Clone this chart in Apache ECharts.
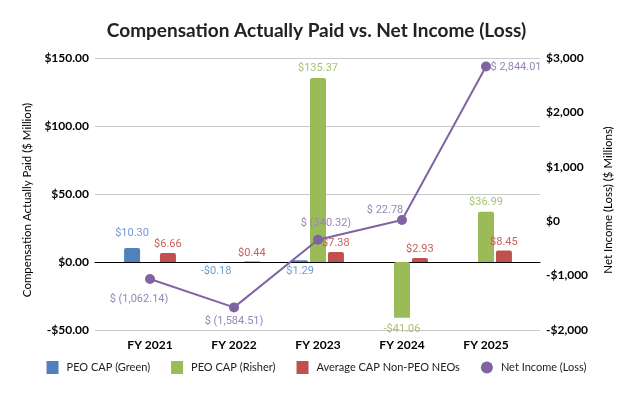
<!DOCTYPE html>
<html><head><meta charset="utf-8">
<script src="https://cdn.jsdelivr.net/npm/echarts@6/dist/echarts.min.js"></script>
<style>html,body{margin:0;padding:0;background:#fff}#c{width:633px;height:394px}</style>
</head><body><div id="c"></div>
<script>
const categories = ['FY 2021','FY 2022','FY 2023','FY 2024','FY 2025'];
const peoGreen = [10.30, -0.18, 1.29, null, null];
const peoRisher = [null, null, 135.37, -41.06, 36.99];
const avgNeo = [6.66, 0.44, 7.38, 2.93, 8.45];
const netIncome = [-1062.14, -1584.51, -340.32, 22.78, 2844.01];
const leftTicks = {min: -50, max: 150, interval: 50};
const rightTicks = {min: -2000, max: 3000, interval: 1000};

const C = {blue:'#4F81BD', green:'#9BBB59', red:'#C0504D', purple:'#8064A2'};
const L = {blue:'#6f9bd1', green:'#a9c46f', red:'#c9605c', purple:'#9886b5'};
const axisFont = {fontFamily:'Lato', fontWeight:'bold', fontSize:12, color:'#000'};
const lblFont = {fontFamily:'Roboto', fontSize:11};

function fmtMoney(v){ return (v<0?'-$':'$') + Math.abs(v).toFixed(2); }
function fmtNI(v){
  const s = Math.abs(v).toLocaleString('en-US',{minimumFractionDigits:2,maximumFractionDigits:2});
  return v<0 ? '$ (' + s + ')' : '$ ' + s;
}
function fmtAxis(v,dec){
  const s = Math.abs(v).toLocaleString('en-US',{minimumFractionDigits:dec,maximumFractionDigits:dec});
  return (v<0?'-$':'$') + s;
}

const blueData = peoGreen.map((v,i)=>{
  if(v==null) return null;
  const pos = (v<0 || i===2) ? 'bottom' : 'top';
  return {value:v, label:{position:pos, distance: pos==='top'?9:4}};
});
const greenData = peoRisher.map(v=> v==null?null:{value:v, label:{position: v<0?'bottom':'top', distance: v<0?6:4}});
const redData = avgNeo.map(v=>({value:v, label:{position:'top', distance:3}}));
const niOffsets = [[-11,20],[0,14],[8,-16],[-17,-10],[30,1]];
const niData = netIncome.map((v,i)=>({value:v, label:{position:'inside', offset:niOffsets[i]}}));

const grids = [
  {left:95, right:93, top:58, bottom:64},
  {left:108, right:105, top:58, bottom:64}
];
const nameStyle = {fontFamily:'Lato', fontSize:11.5, color:'#000', padding:[0,12,0,0]};
const option = {
  animation:false,
  title:{text:'Compensation Actually Paid vs. Net Income (Loss)', left:'center', top:16,
    textStyle:{fontFamily:'Lato', fontWeight:'bold', fontSize:19, color:'#222'}},
  grid: grids,
  legend:{bottom:15, left:'center', itemWidth:12, itemHeight:13, itemGap:21,
    textStyle:{fontFamily:'Lato', fontSize:11, color:'#222', padding:[0,0,0,3]},
    data:[{name:'PEO CAP (Green)', icon:'rect'},{name:'PEO CAP (Risher)', icon:'rect'},
          {name:'Average CAP Non-PEO NEOs', icon:'rect'},{name:'Net Income (Loss)', icon:'circle'}]},
  xAxis:[
    {type:'category', gridIndex:0, data:categories, axisLabel:{show:false}, axisTick:{show:false},
     axisLine:{show:true, onZero:true, lineStyle:{color:'#000', width:1}}, splitLine:{show:false}},
    {type:'category', gridIndex:1, data:categories, axisTick:{show:false},
     axisLine:{show:false, onZero:false}, axisLabel:{...axisFont, margin:9}, splitLine:{show:false}}
  ],
  yAxis:[
    {type:'value', gridIndex:0, ...leftTicks, position:'left',
     name:'Compensation Actually Paid ($ Million)', nameLocation:'middle', nameGap:62,
     nameTextStyle:nameStyle,
     axisLabel:{...axisFont, margin:6, formatter:v=>fmtAxis(v,2)},
     axisLine:{show:false}, axisTick:{show:false}, splitLine:{lineStyle:{color:'#c8c8c8'}}},
    {type:'value', gridIndex:0, ...rightTicks, position:'right',
     name:'Net Income (Loss) ($ Millions)', nameLocation:'middle', nameGap:62, nameRotate:90,
     nameTextStyle:nameStyle,
     axisLabel:{...axisFont, margin:6, formatter:v=>fmtAxis(v,0)},
     axisLine:{show:false}, axisTick:{show:false}, splitLine:{show:false}},
    {type:'value', gridIndex:1, ...leftTicks, show:false, splitLine:{show:false}},
    {type:'value', gridIndex:1, ...rightTicks, show:false, splitLine:{show:false}}
  ],
  series:[
    {name:'PEO CAP (Green)', type:'bar', xAxisIndex:1, yAxisIndex:2, data:blueData,
     barWidth:16, barGap:'12%', itemStyle:{color:C.blue, borderRadius:[2,2,0,0]},
     label:{show:true, ...lblFont, color:L.blue, formatter:p=>fmtMoney(p.value)}},
    {name:'PEO CAP (Risher)', type:'bar', xAxisIndex:1, yAxisIndex:2, data:greenData,
     barWidth:16, barGap:'12%', itemStyle:{color:C.green, borderRadius:[2,2,0,0]},
     label:{show:true, ...lblFont, color:L.green, formatter:p=>fmtMoney(p.value)}},
    {name:'Average CAP Non-PEO NEOs', type:'bar', xAxisIndex:1, yAxisIndex:2, data:redData,
     barWidth:16, barGap:'12%', itemStyle:{color:C.red, borderRadius:[2,2,0,0]},
     label:{show:true, ...lblFont, color:L.red, formatter:p=>fmtMoney(p.value)}},
    {name:'Net Income (Loss)', type:'line', xAxisIndex:1, yAxisIndex:3, data:niData,
     symbol:'circle', symbolSize:10, lineStyle:{color:C.purple, width:2}, itemStyle:{color:C.purple},
     label:{show:true, ...lblFont, color:L.purple, formatter:p=>fmtNI(p.value)}, z:5}
  ]
};
const chart = echarts.init(document.getElementById('c'), null, {renderer:'canvas'});
chart.setOption(option);
</script></body></html>
